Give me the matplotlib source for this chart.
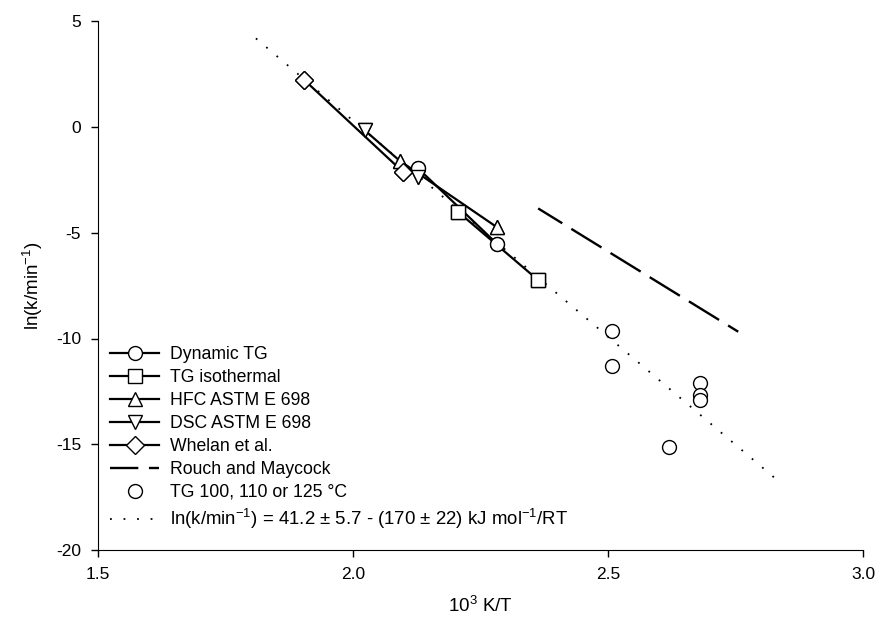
import matplotlib
matplotlib.use("Agg")
import matplotlib.pyplot as plt

plt.rcParams['font.family'] = ['Liberation Sans', 'DejaVu Sans']
plt.rcParams['mathtext.default'] = 'regular'

# ---- data ----
dyn_x = [2.128, 2.283]
dyn_y = [-1.96, -5.54]
iso_x = [2.206, 2.363]
iso_y = [-4.01, -7.24]
hfc_x = [2.092, 2.283]
hfc_y = [-1.60, -4.75]
dsc_x = [2.023, 2.128]
dsc_y = [-0.15, -2.36]
whe_x = [1.904, 2.098]
whe_y = [2.24, -2.12]
rouch_x = [2.363, 2.755]
rouch_y = [-3.85, -9.68]
tg_x = [2.508, 2.508, 2.680, 2.680, 2.680, 2.620]
tg_y = [-9.65, -11.30, -12.11, -12.67, -12.91, -15.13]
fit_x = [1.81, 2.84]
fit_y = [4.19, -16.87]

labels = ["Dynamic TG", "TG isothermal", "HFC ASTM E 698", "DSC ASTM E 698",
          "Whelan et al.", "Rouch and Maycock", "TG 100, 110 or 125 \u00b0C",
          "ln(k/min$^{-1}$) = 41.2 \u00b1 5.7 - (170 \u00b1 22) kJ mol$^{-1}$/RT"]
xticks = [1.5, 2.0, 2.5, 3.0]
yticks = [5, 0, -5, -10, -15, -20]

fig = plt.figure(figsize=(8.8, 6.25), dpi=100)
ax = fig.add_axes([0.111, 0.12, 0.870, 0.846])

mk = dict(color='black', lw=1.6, mfc='white', mec='black', mew=1.0, ms=10)
h1, = ax.plot(dyn_x, dyn_y, marker='o', **mk)
h2, = ax.plot(iso_x, iso_y, marker='s', **{**mk, 'ms': 9.5})
h3, = ax.plot(hfc_x, hfc_y, marker='^', **mk)
h4, = ax.plot(dsc_x, dsc_y, marker='v', **mk)
h5, = ax.plot(whe_x, whe_y, marker='D', **{**mk, 'ms': 9})
h6, = ax.plot(rouch_x, rouch_y, color='black', lw=1.7, linestyle=(3, (15, 4.5)))
h7, = ax.plot(tg_x, tg_y, linestyle='none', marker='o', mfc='white', mec='black', mew=1.0, ms=10)
h8, = ax.plot(fit_x, fit_y, color='black', lw=1.3, linestyle=(0, (1, 6.5)))

# redraw markers on top of lines
for xs, ys, m, s in [(dyn_x, dyn_y, 'o', 10), (iso_x, iso_y, 's', 9.5),
                     (hfc_x, hfc_y, '^', 10), (dsc_x, dsc_y, 'v', 10),
                     (whe_x, whe_y, 'D', 9)]:
    ax.plot(xs, ys, linestyle='none', marker=m, mfc='white', mec='black', mew=1.0, ms=s, zorder=3)

ax.set_xlim(1.5, 3.0)
ax.set_ylim(-20, 5)
ax.set_xticks(xticks)
ax.set_xticklabels([f"{v:.1f}" for v in xticks])
ax.set_yticks(yticks)
ax.set_yticklabels([str(v) for v in yticks])
ax.spines['top'].set_visible(False)
ax.spines['right'].set_visible(False)
ax.tick_params(direction='out', length=5, width=1, labelsize=12.5, pad=7)
ax.set_xlabel("10$^3$ K/T", fontsize=13.5, labelpad=10)
ax.set_ylabel("ln(k/min$^{-1}$)", fontsize=13.5, labelpad=8)

leg = ax.legend([h1, h2, h3, h4, h5, h6, h7, h8], labels, loc='lower left',
                bbox_to_anchor=(0.0, 0.013), frameon=False, fontsize=12.7,
                handlelength=2.8, handletextpad=0.6, labelspacing=0.34,
                borderaxespad=0.3)
leg.get_texts()[-1].set_fontsize(13.4)

fig.savefig("out.png", dpi=100)
